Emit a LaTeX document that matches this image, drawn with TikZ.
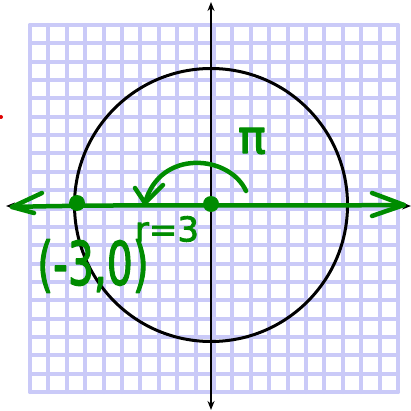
\documentclass[tikz,border=0pt]{standalone}
\usepackage{fontspec}
\newfontfamily\handfont[FakeBold=2.5]{DejaVu Sans}
\usetikzlibrary{arrows.meta}
\definecolor{gridlav}{HTML}{CACAF8}
\definecolor{inkgreen}{HTML}{008C00}
\definecolor{inkred}{HTML}{E00000}

\begin{document}
\begin{tikzpicture}[
  x=1pt,
  y=-1pt,
  line join=round,
  line cap=round,
  gridline/.style={draw=gridlav,line width=4pt},
  axis/.style={draw=black,line width=2.2pt,{Stealth[length=9pt,width=7pt]}-{Stealth[length=9pt,width=7pt]}},
  ring/.style={draw=black,line width=3pt},
  ink/.style={draw=inkgreen,line width=4.5pt},
  dot/.style={circle,fill=inkgreen,inner sep=0pt,minimum size=16pt},
  hand/.style={text=inkgreen,inner sep=0pt}
]
  \useasboundingbox (0,0) rectangle (411,411);

  % Graph paper: 20 by 20 cells.
  \foreach \i in {0,...,20} {
    \draw[gridline] (30+18.4*\i,25) -- (30+18.4*\i,392);
    \draw[gridline] (30,25+18.35*\i) -- (398,25+18.35*\i);
  }

  % Axes and the circle of radius 3 about the origin.
  \coordinate (O) at (211,205);
  \coordinate (Xl) at (6,206);
  \coordinate (Xr) at (411,206);
  \coordinate (Yt) at (211,2);
  \coordinate (Yb) at (211,410);
  \draw[axis] (Xl) -- (Xr);
  \draw[axis] (Yb) -- (Yt);
  \draw[ring] (O) circle[radius=136.5];

  % Green ink: the x axis traced over, with hand-drawn open heads.
  \coordinate (Gl) at (12,207);
  \coordinate (Gr) at (404,205);
  \draw[ink] (Gl) .. controls (120,204) and (300,206) .. (Gr);
  \draw[ink] (42,193) -- (Gl) -- (34,213);
  \draw[ink] (372,193) -- (Gr) -- (372,216);

  % Points on the axis.
  \node[dot] (P) at (77,203) {};
  \node[dot] (C) at (211,204) {};

  % Half-turn arc with its arrow head.
  \coordinate (As) at (246,191);
  \coordinate (Ae) at (145,203);
  \draw[ink] (As) .. controls (230,155) and (160,148) .. (Ae);
  \draw[ink] (135,188) -- (Ae) -- (163,185);

  % Labels.
  \node[hand,font=\handfont\fontsize{46}{46}\selectfont] (pi) at (252,141) {π};
  \node[hand,font=\handfont\fontsize{34}{34}\selectfont] (rlab) at (167,229) {r=3};
  \node[hand,font=\handfont\fontsize{48}{48}\selectfont,xscale=0.85,yscale=1.25,transform shape] (plab) at (93,266) {(-3,0)};

  % Stray red mark at the left edge.
  \fill[inkred] (1,117) circle[radius=2];
\end{tikzpicture}
\end{document}
